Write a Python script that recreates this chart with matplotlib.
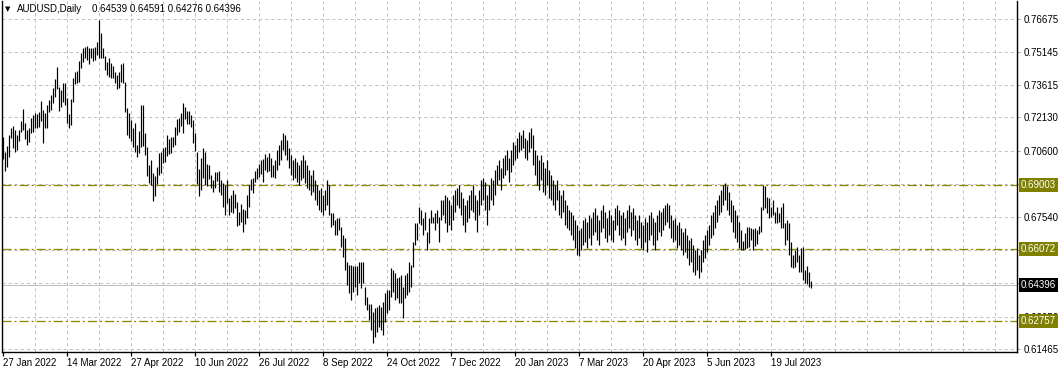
import matplotlib
matplotlib.use('Agg')
import matplotlib.pyplot as plt
import matplotlib.transforms as mtransforms

plt.rcParams['font.family'] = ['Liberation Sans', 'DejaVu Sans']
plt.rcParams['lines.scale_dashes'] = False

# =========================
# DATA (AUDUSD daily, high / low per bar)
# =========================
highs = [
    0.7125, 0.7056, 0.7082, 0.7133, 0.7165, 0.7176, 0.7156, 0.7133, 0.7156, 0.7197,
    0.7253, 0.7188, 0.7156, 0.7165, 0.7211, 0.7225, 0.7234, 0.7229, 0.7239, 0.7289,
    0.7248, 0.7234, 0.7271, 0.7294, 0.7317, 0.7349, 0.7391, 0.7446, 0.7354, 0.7340,
    0.7372, 0.7372, 0.7303, 0.7229, 0.7299, 0.7397, 0.7424, 0.7428, 0.7474, 0.7511,
    0.7534, 0.7540, 0.7544, 0.7534, 0.7534, 0.7535, 0.7540, 0.7563, 0.7663, 0.7603,
    0.7534, 0.7498, 0.7471, 0.7488, 0.7465, 0.7452, 0.7422, 0.7409, 0.7424, 0.7459,
    0.7463, 0.7378, 0.7257, 0.7235, 0.7202, 0.7165, 0.7188, 0.7087, 0.7152, 0.7271,
    0.7271, 0.7141, 0.7076, 0.6994, 0.7017, 0.6959, 0.6944, 0.6987, 0.7048, 0.7056,
    0.7071, 0.7079, 0.7133, 0.7113, 0.7125, 0.7122, 0.7171, 0.7205, 0.7210, 0.7235,
    0.7282, 0.7263, 0.7245, 0.7245, 0.7225, 0.7202, 0.7141, 0.7056, 0.6975, 0.7025,
    0.7071, 0.7056, 0.6998, 0.6994, 0.6948, 0.6925, 0.6963, 0.6963, 0.6967, 0.6925,
    0.6910, 0.6902, 0.6925, 0.6841, 0.6856, 0.6879, 0.6859, 0.6822, 0.6779, 0.6813,
    0.6791, 0.6787, 0.6856, 0.6902, 0.6930, 0.6936, 0.6967, 0.6982, 0.6998, 0.7017,
    0.7022, 0.7044, 0.7033, 0.7048, 0.7025, 0.6994, 0.7017, 0.7064, 0.7087, 0.7110,
    0.7142, 0.7133, 0.7110, 0.7073, 0.7040, 0.7017, 0.7027, 0.7008, 0.6994, 0.7017,
    0.7040, 0.7017, 0.6994, 0.6971, 0.6948, 0.6971, 0.6925, 0.6902, 0.6879, 0.6888,
    0.6856, 0.6879, 0.6925, 0.6902, 0.6773, 0.6773, 0.6741, 0.6750, 0.6750, 0.6709,
    0.6672, 0.6658, 0.6547, 0.6533, 0.6533, 0.6529, 0.6529, 0.6529, 0.6547, 0.6547,
    0.6547, 0.6432, 0.6386, 0.6354, 0.6354, 0.6317, 0.6335, 0.6340, 0.6349, 0.6340,
    0.6363, 0.6404, 0.6418, 0.6418, 0.6520, 0.6511, 0.6497, 0.6474, 0.6478, 0.6487,
    0.6432, 0.6487, 0.6497, 0.6547, 0.6533, 0.6639, 0.6727, 0.6727, 0.6801, 0.6787,
    0.6750, 0.6778, 0.6686, 0.6750, 0.6787, 0.6755, 0.6773, 0.6787, 0.6755, 0.6833,
    0.6833, 0.6856, 0.6847, 0.6833, 0.6810, 0.6856, 0.6879, 0.6888, 0.6902, 0.6870,
    0.6842, 0.6810, 0.6833, 0.6856, 0.6879, 0.6902, 0.6856, 0.6833, 0.6879, 0.6925,
    0.6934, 0.6916, 0.6856, 0.6902, 0.6934, 0.6925, 0.6971, 0.6994, 0.7017, 0.6981,
    0.7027, 0.7040, 0.7064, 0.7027, 0.7064, 0.7100, 0.7087, 0.7119, 0.7147, 0.7133,
    0.7156, 0.7119, 0.7110, 0.7147, 0.7165, 0.7133, 0.7064, 0.7040, 0.7017, 0.7040,
    0.7008, 0.6981, 0.7017, 0.6971, 0.6948, 0.6925, 0.6902, 0.6925, 0.6879, 0.6856,
    0.6879, 0.6833, 0.6810, 0.6787, 0.6778, 0.6764, 0.6741, 0.6718, 0.6695, 0.6704,
    0.6741, 0.6750, 0.6732, 0.6764, 0.6750, 0.6778, 0.6796, 0.6764, 0.6741, 0.6787,
    0.6810, 0.6778, 0.6750, 0.6787, 0.6764, 0.6741, 0.6796, 0.6810, 0.6787, 0.6764,
    0.6778, 0.6750, 0.6787, 0.6810, 0.6778, 0.6796, 0.6764, 0.6741, 0.6764, 0.6732,
    0.6718, 0.6750, 0.6732, 0.6764, 0.6778, 0.6750, 0.6732, 0.6764, 0.6787, 0.6778,
    0.6796, 0.6810, 0.6819, 0.6810, 0.6764, 0.6741, 0.6750, 0.6718, 0.6732, 0.6704,
    0.6686, 0.6704, 0.6672, 0.6649, 0.6658, 0.6626, 0.6603, 0.6612, 0.6579, 0.6603,
    0.6649, 0.6672, 0.6695, 0.6718, 0.6764, 0.6778, 0.6810, 0.6833, 0.6856, 0.6879,
    0.6902, 0.6911, 0.6898, 0.6870, 0.6833, 0.6810, 0.6787, 0.6764, 0.6732, 0.6695,
    0.6644, 0.6681, 0.6709, 0.6709, 0.6704, 0.6699, 0.6704, 0.6695, 0.6713, 0.6801,
    0.6902, 0.6898, 0.6847, 0.6842, 0.6801, 0.6833, 0.6778, 0.6801, 0.6773, 0.6801,
    0.6819, 0.6727, 0.6741, 0.6727, 0.6639, 0.6579, 0.6603, 0.6616, 0.6579, 0.6612,
    0.6616, 0.6511, 0.6529, 0.6501, 0.64591,
]
lows = [
    0.7022, 0.6967, 0.6987, 0.7033, 0.7119, 0.7073, 0.7056, 0.7064, 0.7105, 0.7147,
    0.7156, 0.7114, 0.7087, 0.7100, 0.7142, 0.7147, 0.7165, 0.7165, 0.7170, 0.7197,
    0.7096, 0.7165, 0.7165, 0.7239, 0.7248, 0.7280, 0.7308, 0.7345, 0.7243, 0.7262,
    0.7285, 0.7271, 0.7188, 0.7165, 0.7179, 0.7285, 0.7366, 0.7374, 0.7378, 0.7443,
    0.7471, 0.7489, 0.7478, 0.7460, 0.7489, 0.7474, 0.7478, 0.7501, 0.7489, 0.7489,
    0.7488, 0.7432, 0.7409, 0.7401, 0.7397, 0.7394, 0.7371, 0.7345, 0.7351, 0.7378,
    0.7371, 0.7240, 0.7133, 0.7120, 0.7105, 0.7078, 0.7056, 0.7033, 0.7048, 0.7076,
    0.7082, 0.7040, 0.6944, 0.6913, 0.6902, 0.6830, 0.6851, 0.6907, 0.6948, 0.6956,
    0.7005, 0.7010, 0.7036, 0.7045, 0.7048, 0.7079, 0.7087, 0.7133, 0.7148, 0.7174,
    0.7143, 0.7205, 0.7183, 0.7183, 0.7168, 0.7094, 0.7060, 0.6907, 0.6851, 0.6879,
    0.6933, 0.6902, 0.6899, 0.6930, 0.6890, 0.6868, 0.6890, 0.6921, 0.6868, 0.6856,
    0.6802, 0.6764, 0.6818, 0.6764, 0.6779, 0.6772, 0.6795, 0.6714, 0.6718, 0.6730,
    0.6684, 0.6721, 0.6749, 0.6802, 0.6879, 0.6864, 0.6917, 0.6930, 0.6940, 0.6951,
    0.6915, 0.6971, 0.6961, 0.6967, 0.6940, 0.6940, 0.6934, 0.6971, 0.6994, 0.7017,
    0.7064, 0.7040, 0.7017, 0.6980, 0.6948, 0.6925, 0.6934, 0.6916, 0.6902, 0.6925,
    0.6934, 0.6911, 0.6888, 0.6879, 0.6856, 0.6870, 0.6833, 0.6810, 0.6787, 0.6778,
    0.6764, 0.6787, 0.6810, 0.6764, 0.6709, 0.6718, 0.6672, 0.6672, 0.6695, 0.6616,
    0.6570, 0.6511, 0.6441, 0.6404, 0.6372, 0.6409, 0.6432, 0.6395, 0.6450, 0.6427,
    0.6450, 0.6349, 0.6326, 0.6280, 0.6234, 0.6174, 0.6201, 0.6224, 0.6248, 0.6234,
    0.6211, 0.6271, 0.6312, 0.6326, 0.6386, 0.6409, 0.6372, 0.6381, 0.6358, 0.6358,
    0.6289, 0.6381, 0.6395, 0.6409, 0.6432, 0.6524, 0.6626, 0.6649, 0.6727, 0.6718,
    0.6672, 0.6695, 0.6603, 0.6635, 0.6727, 0.6727, 0.6695, 0.6727, 0.6639, 0.6741,
    0.6764, 0.6727, 0.6686, 0.6718, 0.6695, 0.6741, 0.6778, 0.6810, 0.6796, 0.6764,
    0.6718, 0.6686, 0.6732, 0.6750, 0.6787, 0.6778, 0.6741, 0.6686, 0.6764, 0.6810,
    0.6833, 0.6787, 0.6718, 0.6787, 0.6833, 0.6810, 0.6856, 0.6902, 0.6925, 0.6879,
    0.6934, 0.6948, 0.6971, 0.6916, 0.6962, 0.6994, 0.7017, 0.7027, 0.7054, 0.7064,
    0.7073, 0.7027, 0.7017, 0.7054, 0.7073, 0.6994, 0.6948, 0.6902, 0.6879, 0.6925,
    0.6870, 0.6856, 0.6902, 0.6842, 0.6833, 0.6810, 0.6787, 0.6833, 0.6764, 0.6750,
    0.6778, 0.6718, 0.6704, 0.6695, 0.6672, 0.6649, 0.6612, 0.6579, 0.6575, 0.6603,
    0.6626, 0.6639, 0.6612, 0.6658, 0.6626, 0.6672, 0.6686, 0.6649, 0.6626, 0.6686,
    0.6704, 0.6658, 0.6639, 0.6672, 0.6649, 0.6639, 0.6695, 0.6718, 0.6672, 0.6649,
    0.6658, 0.6626, 0.6686, 0.6704, 0.6667, 0.6695, 0.6649, 0.6626, 0.6658, 0.6612,
    0.6603, 0.6639, 0.6593, 0.6649, 0.6672, 0.6626, 0.6603, 0.6649, 0.6686, 0.6667,
    0.6695, 0.6718, 0.6732, 0.6704, 0.6658, 0.6639, 0.6649, 0.6612, 0.6626, 0.6603,
    0.6579, 0.6593, 0.6566, 0.6533, 0.6547, 0.6501, 0.6487, 0.6511, 0.6474, 0.6501,
    0.6547, 0.6566, 0.6593, 0.6626, 0.6658, 0.6672, 0.6704, 0.6732, 0.6764, 0.6778,
    0.6810, 0.6833, 0.6787, 0.6764, 0.6732, 0.6686, 0.6658, 0.6639, 0.6612, 0.6603,
    0.6603, 0.6607, 0.6612, 0.6616, 0.6649, 0.6603, 0.6621, 0.6630, 0.6676, 0.6686,
    0.6787, 0.6796, 0.6773, 0.6750, 0.6755, 0.6764, 0.6727, 0.6727, 0.6732, 0.6704,
    0.6704, 0.6626, 0.6649, 0.6579, 0.6524, 0.6520, 0.6524, 0.6547, 0.6501, 0.6501,
    0.6464, 0.6450, 0.6446, 0.6432, 0.64276,
]

last_ohlc = [0.64539, 0.64591, 0.64276, 0.64396]
date_labels = ["27 Jan 2022", "14 Mar 2022", "27 Apr 2022", "10 Jun 2022",
               "26 Jul 2022", "8 Sep 2022", "24 Oct 2022", "7 Dec 2022",
               "20 Jan 2023", "7 Mar 2023", "20 Apr 2023", "5 Jun 2023",
               "19 Jul 2023"]
price_ticks = [0.76675, 0.75145, 0.73615, 0.72130, 0.70600, 0.69070,
               0.67540, 0.66010, 0.64480, 0.62950, 0.61465]
# tick labels covered by the level / bid boxes in the terminal
hidden_ticks = [0.69070, 0.66010, 0.64480]
levels = [0.69003, 0.66072, 0.62757]
bid = 0.64396

BARS_PER_LABEL = 32
BARS_PER_GRID = 16

# =========================
# FIGURE
# =========================
W, H = 1064, 372
PX = 72 / 100  # one pixel in points
fig = plt.figure(figsize=(W / 100, H / 100), dpi=100)
fig.patch.set_facecolor('white')
ax = fig.add_axes([2 / W, 20 / H, 1015 / W, 351 / H])
ax.set_facecolor('white')

n = len(highs)
xs = list(range(n))
ax.set_xlim(-0.5, 507)
ax.set_ylim(0.6132, 0.7750)

# grid
grid_kw = dict(color='#C0C0C0', linewidth=PX, dashes=(2.2, 2.2), zorder=0, snap=True)
for p in price_ticks:
    ax.axhline(p, **grid_kw)
for gx in range(BARS_PER_GRID, 508, BARS_PER_GRID):
    ax.axvline(gx, **grid_kw)

# price levels and bid line
for lv in levels:
    ax.axhline(lv, color='#8A8A00', linewidth=PX * 1.3, dashes=(6.5, 2.2, 1.4, 2.2),
               snap=True, zorder=1)
ax.axhline(bid, color='#C0C0C0', linewidth=PX, snap=True, zorder=1)

# bars
ax.vlines(xs, lows, highs, colors='black', linewidth=PX * 1.2, snap=True, zorder=3)

# axes styling
ax.spines['top'].set_visible(False)
for s in ['left', 'right', 'bottom']:
    ax.spines[s].set_color('black')
    ax.spines[s].set_linewidth(1.0)

ax.yaxis.tick_right()
ax.set_yticks(price_ticks)
ax.set_yticklabels(["" if p in hidden_ticks else f"{p:.5f}" for p in price_ticks])
ax.tick_params(axis='y', direction='out', length=2.5, width=0.75,
               color='#A0A0A0', pad=2, labelsize=7, labelcolor='black')

ax.set_xticks([i * BARS_PER_LABEL for i in range(len(date_labels))])
ax.set_xticklabels(date_labels)
ax.tick_params(axis='x', direction='out', length=3, width=0.9,
               color='black', pad=1.5, labelsize=7, labelcolor='black')
for lbl in ax.get_xticklabels():
    lbl.set_horizontalalignment('left')

# price boxes on the right axis
trans = mtransforms.blended_transform_factory(ax.transAxes, ax.transData)
trans = mtransforms.offset_copy(trans, fig=fig, x=4, y=0, units='dots')
for lv in levels:
    ax.text(1.0, lv, f"{lv:.5f}", transform=trans, ha='left', va='center',
            fontsize=7, color='white', clip_on=False, zorder=10,
            bbox=dict(boxstyle='square,pad=0.2', fc='#808000', ec='none'))
ax.text(1.0, bid, f"{bid:.5f}", transform=trans, ha='left', va='center',
        fontsize=7, color='white', clip_on=False, zorder=10,
        bbox=dict(boxstyle='square,pad=0.2', fc='black', ec='none'))

# header
fig.text(5 / W, 1 - 9.5 / H, "\u25BC", fontsize=5, family='DejaVu Sans',
         va='center', ha='left', color='black')
fig.text(17 / W, 1 - 9.5 / H, "AUDUSD,Daily", fontsize=7, va='center',
         ha='left', color='black')
fig.text(92 / W, 1 - 9.5 / H, " ".join(f"{v:.5f}" for v in last_ohlc),
         fontsize=7, va='center', ha='left', color='black')

fig.savefig('out.png', dpi=100, facecolor='white')
